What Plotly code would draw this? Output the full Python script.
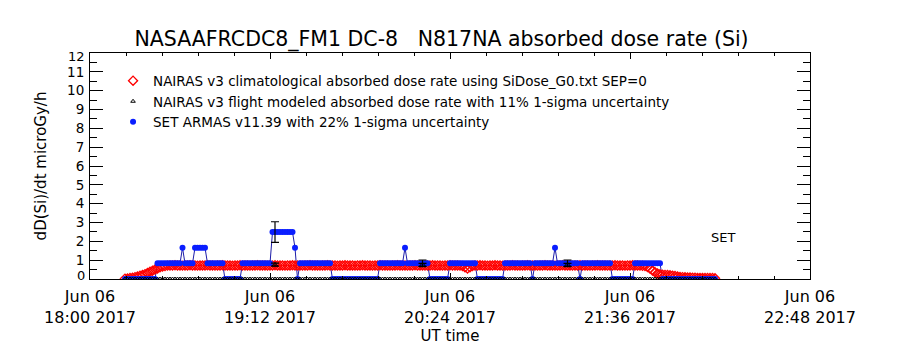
import plotly.graph_objects as go
import pandas as pd

# ---------------- data (one sample per minute after 2017-06-06 18:00 UT) ----------------
base_time = pd.Timestamp("2017-06-06 18:00")
minutes = list(range(14, 251))  # 14 .. 250

nairas_clim = [
    # 14-31 climb
    0.02, 0.03, 0.05, 0.07, 0.10, 0.13, 0.17, 0.21, 0.26, 0.32,
    0.38, 0.44, 0.50, 0.56, 0.62, 0.66, 0.69, 0.71,
    # 32-148 cruise
    0.72, 0.72, 0.73, 0.72, 0.72, 0.71, 0.72, 0.72, 0.73, 0.72,
    0.72, 0.71, 0.72, 0.72, 0.72, 0.73, 0.72, 0.72, 0.71, 0.72,
    0.72, 0.73, 0.72, 0.72, 0.72, 0.71, 0.72, 0.72, 0.73, 0.72,
    0.72, 0.72, 0.71, 0.72, 0.72, 0.73, 0.72, 0.72, 0.72, 0.71,
    0.72, 0.72, 0.73, 0.72, 0.72, 0.72, 0.71, 0.72, 0.72, 0.73,
    0.72, 0.72, 0.72, 0.71, 0.72, 0.72, 0.73, 0.72, 0.72, 0.72,
    0.71, 0.72, 0.72, 0.73, 0.72, 0.72, 0.72, 0.71, 0.72, 0.72,
    0.73, 0.72, 0.72, 0.72, 0.71, 0.72, 0.72, 0.73, 0.72, 0.72,
    0.72, 0.71, 0.72, 0.72, 0.73, 0.72, 0.72, 0.72, 0.71, 0.72,
    0.72, 0.73, 0.72, 0.72, 0.72, 0.71, 0.72, 0.72, 0.73, 0.72,
    0.72, 0.72, 0.71, 0.72, 0.72, 0.73, 0.72, 0.72, 0.72, 0.71,
    0.72, 0.72, 0.73, 0.72, 0.72, 0.72, 0.71,
    # 149-153 small dip
    0.69, 0.62, 0.56, 0.62, 0.69,
    # 154-221 cruise
    0.72, 0.72, 0.73, 0.72, 0.72, 0.71, 0.72, 0.72, 0.73, 0.72,
    0.72, 0.71, 0.72, 0.72, 0.72, 0.73, 0.72, 0.72, 0.71, 0.72,
    0.72, 0.73, 0.72, 0.72, 0.72, 0.71, 0.72, 0.72, 0.73, 0.72,
    0.72, 0.72, 0.71, 0.72, 0.72, 0.73, 0.72, 0.72, 0.72, 0.71,
    0.72, 0.72, 0.73, 0.72, 0.72, 0.72, 0.71, 0.72, 0.72, 0.73,
    0.72, 0.72, 0.72, 0.71, 0.72, 0.72, 0.73, 0.72, 0.72, 0.72,
    0.71, 0.72, 0.72, 0.73, 0.72, 0.72, 0.71, 0.70,
    # 222-250 descent
    0.69, 0.64, 0.55, 0.45, 0.36, 0.29, 0.25, 0.23, 0.22, 0.21,
    0.20, 0.18, 0.16, 0.13, 0.11, 0.10, 0.09, 0.08, 0.08, 0.07,
    0.07, 0.06, 0.06, 0.06, 0.05, 0.05, 0.05, 0.05, 0.04,
]

nairas_flight = [
    0, 0, 0, 0, 0, 0, 0, 0, 0, 0, 0, 0, 0, 0, 0, 0, 0, 0, 0, 0,
    0, 0, 0, 0, 0, 0, 0, 0, 0, 0, 0, 0, 0, 0, 0, 0, 0, 0, 0, 0,
    0, 0, 0, 0, 0, 0, 0, 0, 0, 0, 0, 0, 0, 0, 0, 0, 0, 0, 0, 0,
    0, 0, 0, 0, 0, 0, 0, 0, 0, 0, 0, 0, 0, 0, 0, 0, 0, 0, 0, 0,
    0, 0, 0, 0, 0, 0, 0, 0, 0, 0, 0, 0, 0, 0, 0, 0, 0, 0, 0, 0,
    0, 0, 0, 0, 0, 0, 0, 0, 0, 0, 0, 0, 0, 0, 0, 0, 0, 0, 0, 0,
    0, 0, 0, 0, 0, 0, 0, 0, 0, 0, 0, 0, 0, 0, 0, 0, 0, 0, 0, 0,
    0, 0, 0, 0, 0, 0, 0, 0, 0, 0, 0, 0, 0, 0, 0, 0, 0, 0, 0, 0,
    0, 0, 0, 0, 0, 0, 0, 0, 0, 0, 0, 0, 0, 0, 0, 0, 0, 0, 0, 0,
    0, 0, 0, 0, 0, 0, 0, 0, 0, 0, 0, 0, 0, 0, 0, 0, 0, 0, 0, 0,
    0, 0, 0, 0, 0, 0, 0, 0, 0, 0, 0, 0, 0, 0, 0, 0, 0, 0, 0, 0,
    0, 0, 0, 0, 0, 0, 0, 0, 0, 0, 0, 0, 0, 0, 0, 0, 0,
]

set_armas = [
    0, 0, 0, 0, 0, 0, 0, 0, 0, 0, 0, 0, 0,                              # 14-26
    0.83, 0.83, 0.83, 0.83, 0.83, 0.83, 0.83, 0.83, 0.83, 0.83,          # 27-36
    1.66,                                                                # 37
    0.83, 0.83, 0.83, 0.83,                                              # 38-41
    1.66, 1.66, 1.66, 1.66, 1.66,                                        # 42-46
    0.83, 0.83, 0.83, 0.83, 0.83, 0.83, 0.83,                            # 47-53
    0, 0, 0, 0, 0, 0, 0,                                                 # 54-60
    0.83, 0.83, 0.83, 0.83, 0.83, 0.83, 0.83, 0.83, 0.83, 0.83, 0.83, 0.83,  # 61-72
    2.49, 2.49, 2.49, 2.49, 2.49, 2.49, 2.49, 2.49, 2.49,                # 73-81
    1.66,                                                                # 82
    0,                                                                   # 83
    0.83, 0.83, 0.83, 0.83, 0.83, 0.83, 0.83, 0.83, 0.83, 0.83, 0.83, 0.83, 0.83,  # 84-96
    0, 0, 0, 0, 0, 0, 0, 0, 0, 0, 0, 0, 0, 0, 0, 0, 0, 0, 0,             # 97-115
    0.83, 0.83, 0.83, 0.83, 0.83, 0.83, 0.83, 0.83, 0.83, 0.83,          # 116-125
    1.66,                                                                # 126
    0.83, 0.83, 0.83, 0.83, 0.83, 0.83, 0.83, 0.83, 0.83,                # 127-135
    0, 0, 0, 0, 0, 0, 0, 0,                                              # 136-143
    0.83, 0.83, 0.83, 0.83, 0.83, 0.83, 0.83, 0.83, 0.83, 0.83, 0.83,    # 144-154
    0, 0, 0, 0, 0, 0, 0, 0, 0, 0, 0,                                     # 155-165
    0.83, 0.83, 0.83, 0.83, 0.83, 0.83, 0.83, 0.83, 0.83, 0.83, 0.83,    # 166-176
    0,                                                                   # 177
    0.83, 0.83, 0.83, 0.83, 0.83, 0.83, 0.83, 0.83,                      # 178-185
    1.66,                                                                # 186
    0.83, 0.83, 0.83, 0.83, 0.83, 0.83, 0.83, 0.83, 0.83,                # 187-195
    0,                                                                   # 196
    0.83, 0.83, 0.83, 0.83, 0.83, 0.83, 0.83, 0.83, 0.83, 0.83, 0.83, 0.83,  # 197-208
    0, 0, 0, 0, 0, 0, 0, 0, 0,                                           # 209-217
    0.83, 0.83, 0.83, 0.83, 0.83, 0.83, 0.83, 0.83, 0.83, 0.83, 0.83,    # 218-228
    0, 0, 0, 0, 0, 0, 0, 0, 0, 0, 0, 0, 0, 0, 0, 0, 0, 0, 0, 0, 0, 0,    # 229-250
]

err_minutes = [74, 133, 191]
set_err_values = [2.49, 0.83, 0.83]
set_err_sigma = [0.55, 0.18, 0.18]
flight_err_values = [0.76, 0.75, 0.75]
flight_err_sigma = [0.08, 0.08, 0.08]

y_tick_values = list(range(0, 13))
y_tick_labels = ["", "1", "2", "3", "4", "5", "6", "7", "8", "9", "10", "11", ""]
y_end_labels = ["0", "12"]
y_end_label_pos = [0.17, 11.8]   # the end labels sit just inside the frame

title_text = "NASAAFRCDC8_FM1 DC-8\u00a0\u00a0\u00a0N817NA absorbed dose rate (Si)"
legend_names = [
    "NAIRAS v3 climatological absorbed dose rate using SiDose_G0.txt SEP=0",
    "NAIRAS v3 flight modeled absorbed dose rate with 11% 1-sigma uncertainty",
    "SET ARMAS v11.39 with 22% 1-sigma uncertainty",
]

# ---------------- build ----------------
times = [base_time + pd.Timedelta(minutes=m) for m in minutes]
err_times = [base_time + pd.Timedelta(minutes=m) for m in err_minutes]

FONT = "DejaVu Sans"
fig = go.Figure()

# SET ARMAS connecting line (thin)
fig.add_trace(go.Scatter(
    x=times, y=set_armas, mode="lines",
    line=dict(color="#1c1ca8", width=1), showlegend=False, hoverinfo="skip"))

# NAIRAS climatological (red diamonds)
fig.add_trace(go.Scatter(
    x=times, y=nairas_clim, mode="markers", name=legend_names[0], legendrank=1,
    marker=dict(symbol="diamond-open", size=7, color="#ff0000",
                line=dict(width=1.3, color="#ff0000"))))

# SET ARMAS markers
fig.add_trace(go.Scatter(
    x=times, y=set_armas, mode="markers", name=legend_names[2], legendrank=3,
    marker=dict(symbol="circle", size=6, color="#0a1eff",
                line=dict(width=0))))

# NAIRAS flight modeled (black triangles)
fig.add_trace(go.Scatter(
    x=times, y=nairas_flight, mode="markers", name=legend_names[1], legendrank=2,
    marker=dict(symbol="triangle-up-open", size=4, color="black",
                line=dict(width=1, color="black"))))

# error bars
fig.add_trace(go.Scatter(
    x=err_times, y=set_err_values, mode="markers", showlegend=False,
    marker=dict(size=1, color="rgba(0,0,0,0)"),
    error_y=dict(type="data", array=set_err_sigma, visible=True,
                 color="black", thickness=1.2, width=4)))
fig.add_trace(go.Scatter(
    x=err_times, y=flight_err_values, mode="markers", showlegend=False,
    marker=dict(symbol="triangle-up-open", size=5, color="black"),
    error_y=dict(type="data", array=flight_err_sigma, visible=True,
                 color="black", thickness=1.2, width=4)))

fig.add_annotation(
    x=base_time + pd.Timedelta(minutes=253), y=2.2, text="SET",
    showarrow=False, font=dict(family=FONT, size=13, color="black"))

for lab, pos in zip(y_end_labels, y_end_label_pos):
    fig.add_annotation(
        xref="paper", x=0, xanchor="right", xshift=-4, y=pos, yanchor="middle",
        text=lab, showarrow=False, borderpad=0,
        font=dict(family=FONT, size=13, color="black"))

fig.update_layout(
    width=900, height=350,
    margin=dict(l=90, r=90, t=53, b=71),
    paper_bgcolor="white", plot_bgcolor="white",
    font=dict(family=FONT, color="black"),
    title=dict(text=title_text, x=0.4906, xanchor="center", y=0.89,
               yanchor="middle", font=dict(family=FONT, size=20.5, color="black")),
    legend=dict(x=0.032, y=0.945, xanchor="left", yanchor="top",
                bgcolor="rgba(0,0,0,0)", font=dict(family=FONT, size=13.5),
                itemwidth=30, tracegroupgap=0, traceorder="normal"),
    showlegend=True,
)

fig.update_xaxes(
    type="date",
    range=[base_time, base_time + pd.Timedelta(minutes=288)],
    tick0=base_time, dtick=72 * 60 * 1000,
    tickformat="%b %d<br>%H:%M %Y",
    ticks="inside", ticklen=6, tickcolor="black", tickwidth=1,
    showline=True, linecolor="black", linewidth=1, mirror="ticks",
    showgrid=False, zeroline=False,
    tickfont=dict(family=FONT, size=16),
    ticklabelstandoff=3,
    minor=dict(ticks="inside", ticklen=3, tickcolor="black",
               dtick=int(14.4 * 60 * 1000), tick0=base_time, showgrid=False),
    title=dict(text="UT time", font=dict(family=FONT, size=15), standoff=0),
)

fig.update_yaxes(
    range=[0, 12], tickvals=y_tick_values, ticktext=y_tick_labels,
    ticks="inside", ticklen=13, tickcolor="black", tickwidth=1,
    showline=True, linecolor="black", linewidth=1, mirror="ticks",
    showgrid=False, zeroline=False,
    tickfont=dict(family=FONT, size=13.5),
    ticklabelstandoff=2,
    minor=dict(ticks="inside", ticklen=7, tickcolor="black", dtick=0.5,
               showgrid=False),
    title=dict(text="dD(Si)/dt microGy/h", font=dict(family=FONT, size=15),
               standoff=16),
)

fig.write_html("out.html")
